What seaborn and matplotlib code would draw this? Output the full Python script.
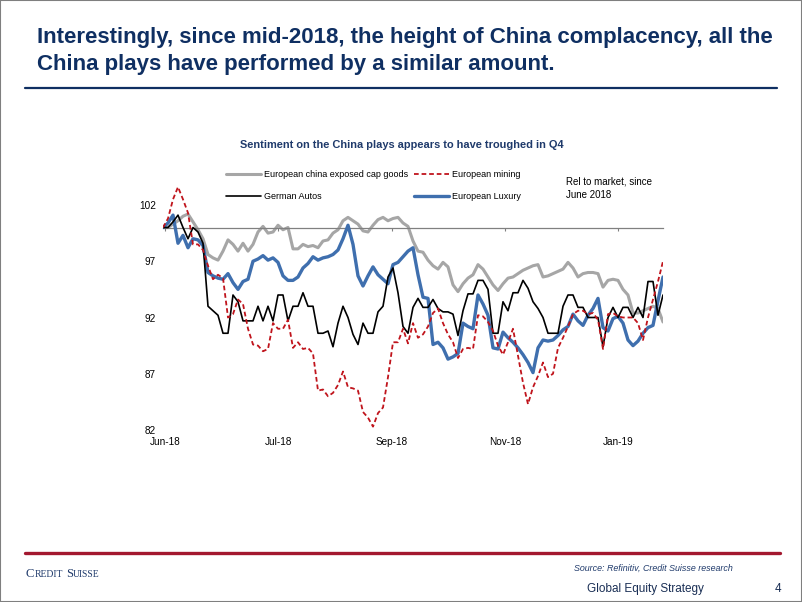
import matplotlib
matplotlib.use("Agg")
import matplotlib.pyplot as plt
from matplotlib import font_manager as fm
from matplotlib.lines import Line2D
from matplotlib.patches import Rectangle
import seaborn as sns
import pandas as pd
import numpy as np

# ---------------- data ----------------
series_names = ["European china exposed cap goods", "German Autos",
                "European mining", "European Luxury"]

cap_goods = [100, 100, 100.3, 100.6, 101.0, 101.2, 100.5, 99.8, 99, 97.6,
             97.3, 97.1, 97.9, 98.9, 98.5, 97.9, 98.6, 97.9, 98.5, 99.6,
             100.1, 99.5, 99.6, 100.2, 99.8, 100, 98.1, 98.1, 98.5, 98.3,
             98.4, 98.2, 98.8, 98.9, 99.5, 99.8, 100.6, 100.9, 100.6, 100.3,
             99.7, 99.6, 100.2, 100.7, 100.9, 100.6, 100.8, 100.9, 100.4, 100.1,
             98.8, 97.9, 97.8, 97.1, 96.6, 96.3, 96.9, 96.5, 94.9, 94.3,
             95, 95.5, 95.8, 96.7, 96.3, 95.6, 94.9, 94.4, 95, 95.5,
             95.6, 95.9, 96.2, 96.4, 96.6, 96.7, 95.6, 95.7, 95.9, 96.1,
             96.3, 96.9, 96.4, 95.6, 95.9, 96, 96, 95.9, 94.7, 95.3,
             95.4, 95.3, 94.5, 94, 92.4, 92.4, 92.6, 92.8, 93, 92.8,
             91.6]

german_autos = [100, 100, 100.5, 101.1, 100, 99, 100, 99.6, 98.6, 93,
                92.6, 92.2, 90.6, 90.6, 94, 93.4, 91.7, 91.7, 91.7, 93,
                91.7, 93, 91.7, 94, 94, 91.7, 93, 93, 94.2, 93,
                93, 90.6, 90.6, 90.8, 89.4, 91.5, 93, 92, 90.5, 89.6,
                91.5, 90.6, 90.6, 92.5, 93, 95.6, 96.4, 94.2, 91.2, 90.6,
                92.9, 93.7, 92.9, 92.9, 93.6, 92.8, 92.5, 92.5, 92.3, 90.4,
                92.6, 94.1, 94.1, 95.3, 95.3, 94.5, 90.6, 90.6, 93.4, 92.6,
                94.2, 94.2, 95.3, 94.6, 93.4, 92.8, 92, 90.6, 90.6, 90.6,
                93, 94, 94, 92.9, 92.9, 92, 92, 92, 89.4, 92,
                92.9, 92, 92.9, 92.9, 92, 92.9, 92, 95.2, 95.2, 92.2,
                94]

mining = [100, 100.8, 102.5, 103.6, 102.5, 101.3, 98.5, 98.5, 98, 96.6,
          95.4, 95.8, 95.5, 92.0, 92.3, 93.6, 93.2, 91, 89.6, 89.5,
          89, 89.2, 91.5, 91, 91, 91.8, 89.3, 89.8, 89.2, 89.3,
          88.8, 85.5, 85.6, 85, 85.3, 86, 87.2, 85.8, 85.7, 85.5,
          83.6, 83.1, 82.3, 83.5, 84, 86.7, 89.8, 89.8, 91, 89.7,
          91.5, 90.2, 90.5, 91.2, 92.4, 92.8, 91.5, 90.5, 89.8, 88.4,
          89.2, 89.3, 89.2, 92.2, 92.1, 91.6, 90.8, 89.5, 88.7, 89.8,
          91, 88.6, 86.2, 84.3, 85.8, 86.8, 88, 86.7, 87, 89.3,
          90.2, 91.2, 92.3, 92.6, 92.6, 92.3, 92.4, 91.8, 89.2, 92.3,
          92.4, 92.1, 92, 92, 92, 91.5, 90, 92, 93.6, 95.2,
          97]

luxury = [100, 100.4, 101.1, 98.6, 99.3, 98.2, 99, 98.9, 98.4, 96,
          95.7, 95.5, 95.4, 95.9, 95.1, 94.5, 95.2, 95.4, 97, 97.2,
          97.5, 97.1, 97.3, 96.9, 95.7, 95.3, 95.3, 95.6, 96.4, 96.8,
          97.4, 97.1, 97.3, 97.4, 97.6, 98, 99, 100.2, 98.5, 95.7,
          94.8, 95.7, 96.5, 95.8, 95.4, 95, 96.7, 96.9, 97.4, 97.9,
          98.2, 95.8, 93.8, 93.7, 89.6, 89.8, 89.3, 88.3, 88.5, 88.8,
          91.5, 91.2, 91, 94, 93.2, 92.2, 89.3, 89.2, 90.7, 90.2,
          89.8, 89.3, 88.7, 88, 87.1, 89.3, 90, 89.9, 90, 90.4,
          90.9, 91.2, 92.3, 91.7, 91.3, 92.2, 92.8, 93.7, 91.1, 90.8,
          91.9, 92.1, 91.5, 90, 89.5, 89.9, 90.6, 91.1, 91.3, 93.5,
          95.6]

x_tick_labels = ["Jun-18", "Jul-18", "Sep-18", "Nov-18", "Jan-19"]
x_tick_pos = [0.4, 23.05, 45.7, 68.35, 91.0]
y_ticks = [82, 87, 92, 97, 102]
baseline = 100

title_lines = ["Interestingly, since mid-2018, the height of China complacency, all the",
               "China plays have performed by a similar amount."]
chart_title = "Sentiment on the China plays appears to have troughed in Q4"
note_lines = ["Rel to market, since", "June 2018"]
source_text = "Source: Refinitiv, Credit Suisse research"
footer_text = "Global Equity Strategy"
page_no = "4"
brand_parts = [("C", 1.0), ("REDIT", 0.76), ("S", 1.0), ("UISSE", 0.76)]

# ---------------- style ----------------
sns.set_theme(style="white")
avail = {f.name for f in fm.fontManager.ttflist}
FONT = "Liberation Sans Narrow" if "Liberation Sans Narrow" in avail else "Liberation Sans"
SERIF = "Liberation Serif" if "Liberation Serif" in avail else "DejaVu Serif"
plt.rcParams["font.family"] = [FONT, "DejaVu Sans"]

NAVY = "#0f2f62"
NAVY2 = "#1f3a6b"
GREY = "#a6a6a6"
BLUE = "#3f6fae"
RED = "#c0141c"
AXGREY = "#808080"

W, H = 802, 602
fig = plt.figure(figsize=(W / 100, H / 100), dpi=100)
fig.patch.set_facecolor("white")
r = fig.canvas.get_renderer()


def fx(px):
    return px / W


def fy(py):
    return 1 - py / H


def text_w(text, fs, family=FONT, **kw):
    t = fig.text(0, 0, text, fontsize=fs, family=family, **kw)
    w = t.get_window_extent(renderer=r).width
    t.remove()
    return w


def size_for(text, target_px, family=FONT, **kw):
    return 10 * target_px / text_w(text, 10, family=family, **kw)


# ---------------- axes ----------------
x0, x1 = 163, 663
ybot, ytop = 82, 104.5
ppu = 11.25
ax_bottom_px = 430
ax_top_px = ax_bottom_px - (ytop - ybot) * ppu
ax = fig.add_axes([fx(x0), fy(ax_bottom_px), (x1 - x0) / W, (ax_bottom_px - ax_top_px) / H])
ax.set_facecolor("none")

idx = np.arange(len(cap_goods))
df = pd.DataFrame({"x": idx,
                   series_names[0]: cap_goods,
                   series_names[1]: german_autos,
                   series_names[2]: mining,
                   series_names[3]: luxury})

sns.lineplot(data=df, x="x", y=series_names[0], ax=ax, color=GREY, lw=2.2,
             label=series_names[0], zorder=2)
sns.lineplot(data=df, x="x", y=series_names[3], ax=ax, color=BLUE, lw=2.4,
             label=series_names[3], zorder=3)
sns.lineplot(data=df, x="x", y=series_names[1], ax=ax, color="black", lw=1.2,
             label=series_names[1], zorder=4)
sns.lineplot(data=df, x="x", y=series_names[2], ax=ax, color=RED, lw=1.3,
             linestyle=(0, (2.6, 1.6)), label=series_names[2], zorder=5)

ax.set_xlim(0, len(cap_goods) - 1)
ax.set_ylim(ybot, ytop)
ax.set_xlabel("")
ax.set_ylabel("")
for s in ["top", "right", "left"]:
    ax.spines[s].set_visible(False)
ax.spines["bottom"].set_position(("data", baseline))
ax.spines["bottom"].set_color(AXGREY)
ax.spines["bottom"].set_linewidth(0.9)

tick_fs = max(size_for("Jun-18", 27), 7.2)
ax.set_xticks(x_tick_pos)
ax.set_xticklabels(x_tick_labels)
ax.set_yticks(y_ticks)
ax.set_yticklabels([str(v) for v in y_ticks])
tick_px = 3
label_h = tick_fs * 100 / 72 * 1.15
pad_px = (442.7 - label_h / 2) - (227.5 + tick_px)
ax.tick_params(axis="x", bottom=True, length=tick_px * 0.72, width=0.8, color=AXGREY,
               direction="out", pad=pad_px * 0.72, labelsize=tick_fs, labelcolor="black")
ax.tick_params(axis="y", left=False, length=0, pad=7 * 0.72, labelsize=tick_fs,
               labelcolor="black")
ax.grid(False)

# ---------------- legend ----------------
leg_fs = size_for(series_names[0], 144)
leg_px = leg_fs * 100 / 72
handles, labels = ax.get_legend_handles_labels()
order = [series_names[0], series_names[1], series_names[2], series_names[3]]
hmap = dict(zip(labels, handles))
leg = ax.legend([hmap[n] for n in order], order, ncol=2, frameon=False,
                loc="center left", bbox_to_anchor=(fx(226), fy(185.5)),
                bbox_transform=fig.transFigure, fontsize=leg_fs,
                handlelength=35 / leg_px, handletextpad=3 / leg_px,
                columnspacing=6 / leg_px, labelspacing=(23 - leg_px * 1.15) / leg_px,
                borderpad=0, borderaxespad=0)
for t in leg.get_texts():
    t.set_color("black")

# ---------------- texts ----------------
t_fs = size_for(title_lines[0], 739, weight="bold")
fig.text(fx(37), fy(43), title_lines[0], fontsize=t_fs, weight="bold", color=NAVY,
         va="baseline", ha="left")
fig.text(fx(37), fy(70), title_lines[1], fontsize=t_fs, weight="bold", color=NAVY,
         va="baseline", ha="left")
fig.add_artist(Line2D([fx(25), fx(777)], [fy(88), fy(88)], transform=fig.transFigure,
                      color=NAVY, lw=1.6))

ct_fs = size_for(chart_title, 323, weight="bold")
fig.text(fx(402), fy(145), chart_title, fontsize=ct_fs, weight="bold", color=NAVY2,
         ha="center", va="center")

n_fs = max(size_for(note_lines[0], 80), 7.0)
fig.text(fx(566), fy(182), note_lines[0], fontsize=n_fs, color="black", va="center")
fig.text(fx(566), fy(195), note_lines[1], fontsize=n_fs, color="black", va="center")

# footer
fig.add_artist(Line2D([fx(25), fx(780)], [fy(553), fy(553)], transform=fig.transFigure,
                      color="#a3182f", lw=2.4))

# brand in small capitals
base = 10
ws = [text_w(txt, base * rel, family=SERIF) for txt, rel in brand_parts]
gap = 3.0
scale = (73 - gap) / sum(ws)
xc = 26
for i, ((txt, rel), w) in enumerate(zip(brand_parts, ws)):
    fig.text(fx(xc), fy(577), txt, fontsize=base * rel * scale, family=SERIF,
             color=NAVY2, va="baseline", ha="left")
    xc += w * scale + (gap if i == 1 else 0.3)

s_fs = size_for(source_text, 160, style="italic")
fig.text(fx(733), fy(568), source_text, fontsize=s_fs, style="italic", color=NAVY2,
         ha="right", va="center")
g_fs = size_for(footer_text, 118)
fig.text(fx(587), fy(589), footer_text, fontsize=g_fs, color="#1a2f55", va="center")
fig.text(fx(781), fy(589), page_no, fontsize=g_fs, color="#1a2f55", va="center", ha="right")

fig.add_artist(Rectangle((0, 0), 1, 1, transform=fig.transFigure, fill=False,
                         ec="#7f7f7f", lw=1.5))

fig.savefig("out.png", dpi=100, facecolor="white")
